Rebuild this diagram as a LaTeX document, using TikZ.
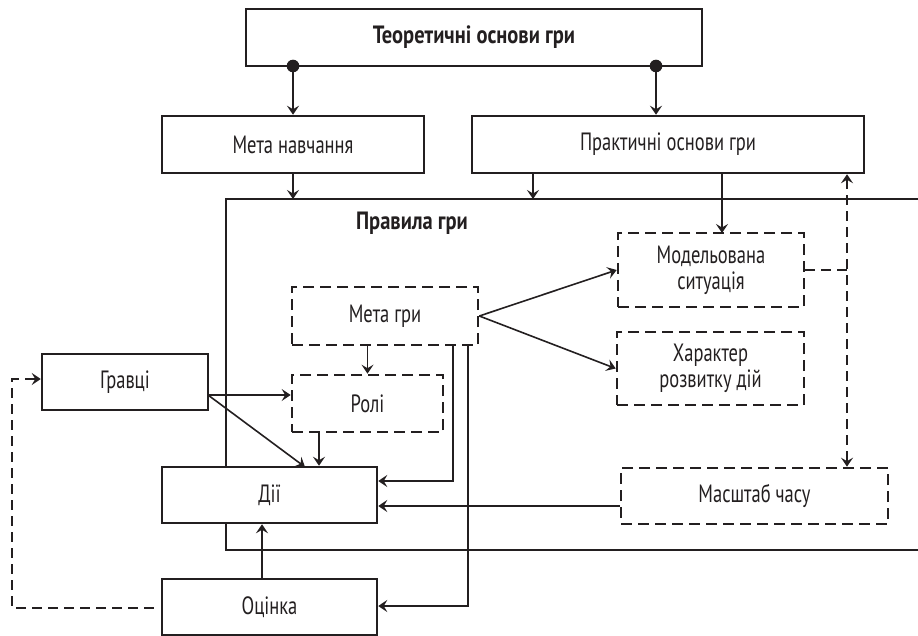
\documentclass[tikz,border=0pt]{standalone}
\usepackage{fontspec}
\setmainfont{PT Sans}[FakeStretch=0.74, BoldFeatures={FakeStretch=0.82}]
\usetikzlibrary{arrows.meta,calc}
\definecolor{inkc}{HTML}{231F20}
\begin{document}
\begin{tikzpicture}[x=1pt,y=-1pt,
  txt/.style={text=inkc, font=\fontsize{25}{26}\selectfont},
  sbox/.style={txt, draw=inkc, line width=2.5pt, fill=white, inner sep=0pt, align=center},
  dbox/.style={sbox, line width=2.6pt, dash pattern=on 11pt off 6pt},
  tip/.style={-{Stealth[length=9pt,width=12pt,inset=3.5pt]}},
  conn/.style={draw=inkc, line width=1.6pt, tip},
  frame/.style={draw=inkc, line width=1.4pt},
  dline/.style={draw=inkc, line width=1.6pt, dash pattern=on 10pt off 6pt},
]
\useasboundingbox (0,0) rectangle (918,636);

% frame of "Правила гри"
\draw[frame] (918,199) -- (226,199) -- (226,550) -- (918,550);

% nodes
\node[sbox, font=\fontsize{25}{26}\selectfont\bfseries, minimum width=456pt, minimum height=57pt] (theory) at (474,37.5) {Теоретичні основи гри};
\node[sbox, minimum width=262pt, minimum height=57pt] (metan) at (293,144.5) {Мета навчання};
\node[sbox, minimum width=392pt, minimum height=57pt] (prakt) at (668,144.5) {Практичні основи гри};
\node[txt, font=\fontsize{25}{26}\selectfont\bfseries] (rules) at (412,223) {Правила гри};
\node[dbox, minimum width=186pt, minimum height=74pt] (model) at (711,270) {Модельована\\ситуація};
\node[dbox, minimum width=186pt, minimum height=58pt] (metagry) at (385,316) {Мета гри};
\node[dbox, minimum width=187pt, minimum height=73pt] (kharakter) at (710.5,368.5) {Характер\\розвитку дій};
\node[sbox, minimum width=166pt, minimum height=56pt] (gravtsi) at (125,382) {Гравці};
\node[dbox, minimum width=151pt, minimum height=57pt] (roli) at (367.5,403.5) {Ролі};
\node[sbox, minimum width=215pt, minimum height=56pt] (dii) at (269.5,495) {Дії};
\node[dbox, minimum width=267pt, minimum height=56pt] (masshtab) at (754.5,496) {Масштаб часу};
\node[sbox, minimum width=215pt, minimum height=56pt] (otsinka) at (269.5,607) {Оцінка};

% helper coordinates
\coordinate (d1) at (293,66);
\coordinate (d2) at (656,66);
\coordinate (a1) at (533,199);
\coordinate (a0) at (293,199);
\coordinate (m1) at (722,233);
\coordinate (v) at (847,0);
\coordinate (p1) at (453,481);
\coordinate (p2) at (468,606);
\coordinate (p3) at (0,506);
\coordinate (g1) at (208,395);
\coordinate (p4) at (305,467);
\coordinate (p5) at (319,0);
\coordinate (p6) at (262,0);
\coordinate (fb) at (12,379);

% top connectors
\fill[inkc] (d1) circle (6.3pt);
\fill[inkc] (d2) circle (6.3pt);
\draw[conn] (d1) -- (metan.north);
\draw[conn] (d2) -- (d2 |- prakt.north);
\draw[conn] (metan.south) -- (a0);
\draw[conn] (prakt.south -| a1) -- (a1);
\draw[conn] (prakt.south -| m1) -- (m1);

% dashed link to time scale
\draw[dline, {Stealth[length=9pt,width=12pt,inset=3.5pt]}-{Stealth[length=9pt,width=12pt,inset=3.5pt]}] (prakt.south -| v) -- (masshtab.north -| v);
\draw[dline] (model.east) -- (model.east -| v);

% from goal of game
\draw[conn] (metagry.east) -- (model.west);
\draw[conn] (metagry.east) -- (kharakter.west);
\draw[conn] (metagry.south -| roli.north) -- (roli.north);
\draw[conn] (metagry.south -| p1) -- (p1) -- (dii.east |- p1);
\draw[conn] (metagry.south -| p2) -- (p2) -- (otsinka.east |- p2);

% time scale to actions
\draw[conn] (masshtab.west |- p3) -- (dii.east |- p3);

% players
\draw[conn] (g1) -- (roli.west |- g1);
\draw[conn] (g1) -- (p4);
\draw[conn] (roli.south -| p5) -- (dii.north -| p5);

% evaluation
\draw[conn] (otsinka.north -| p6) -- (dii.south -| p6);
\draw[dline, tip] ($(otsinka.west)+(-7,1)$) -| (fb) -- (gravtsi.west |- fb);
\end{tikzpicture}
\end{document}
